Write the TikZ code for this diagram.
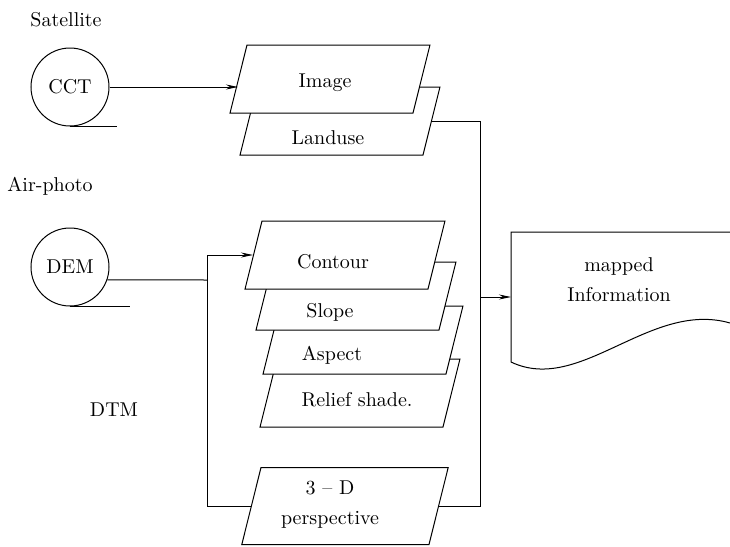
\documentclass[tikz,border=0pt]{standalone}
\usetikzlibrary{shapes.geometric,arrows.meta}

\begin{document}
\begin{tikzpicture}[x=0.5pt,y=-0.5pt,line width=0.5pt,
    layer/.style={draw,fill=white,trapezium,trapezium left angle=76,
        trapezium right angle=104,inner xsep=41.5pt,inner ysep=17pt},
    tape/.style={draw,circle,minimum size=39pt,inner sep=0pt},
    arr/.style={-{Stealth[length=6pt,width=2.5pt]}}]
\useasboundingbox (0,0) rectangle (730,547);
    %sources
    \node (satellite) at (66,20) {Satellite};
    \node[tape] (cct) at (70,87) {CCT};
    \draw (cct.south) -- +(47,0);
    \node (airphoto) at (50,186) {Air-photo};
    \node[tape] (dem) at (70,267) {DEM};
    \draw (dem.south) -- +(60,0);
    \node (dtm) at (114,410) {DTM};
    %layers
    \node[layer] (landuse) at (340,121) {};
    \node[layer] (image) at (330,79) {};
    \node[layer] (relief) at (360,393) {};
    \node[layer] (aspect) at (363,340) {};
    \node[layer] (slope) at (356,296) {};
    \node[layer] (contour) at (345,255) {};
    \node[layer,inner xsep=42pt,inner ysep=19.25pt] (persp) at (345,506) {};
    %layer labels
    \node (image-txt) at (325,83) {Image};
    \node (landuse-txt) at (328,138) {Landuse};
    \node (contour-txt) at (333,262) {Contour};
    \node (slope-txt) at (330,312) {Slope};
    \node (aspect-txt) at (332,355) {Aspect};
    \node (relief-txt) at (357,400) {Relief shade.};
    \node[align=center] (persp-txt) at (330,505) {3 -- D\\[3pt]perspective};
    %output
    \coordinate (doc-nw) at (511,232);
    \draw (730,232) -- (doc-nw) -- (511,362)
        .. controls (580,395) and (650,300) .. (730,323);
    \node[align=center] (info) at (619,280) {mapped\\[3pt]Information};
    %connectors
    \coordinate (bus) at (480,297);
    \coordinate (split) at (207,280);
    \draw[arr] (cct.east) -- (cct.east -| image.west);
    \draw (landuse.east) -| (bus);
    \draw (persp.east) -| (bus);
    \draw[arr] (bus) -- (bus -| doc-nw);
    \draw (dem.-19) -- (split);
    \draw[arr] (split) |- (contour.west);
    \draw (split) |- (persp.west);
\end{tikzpicture}
\end{document}
